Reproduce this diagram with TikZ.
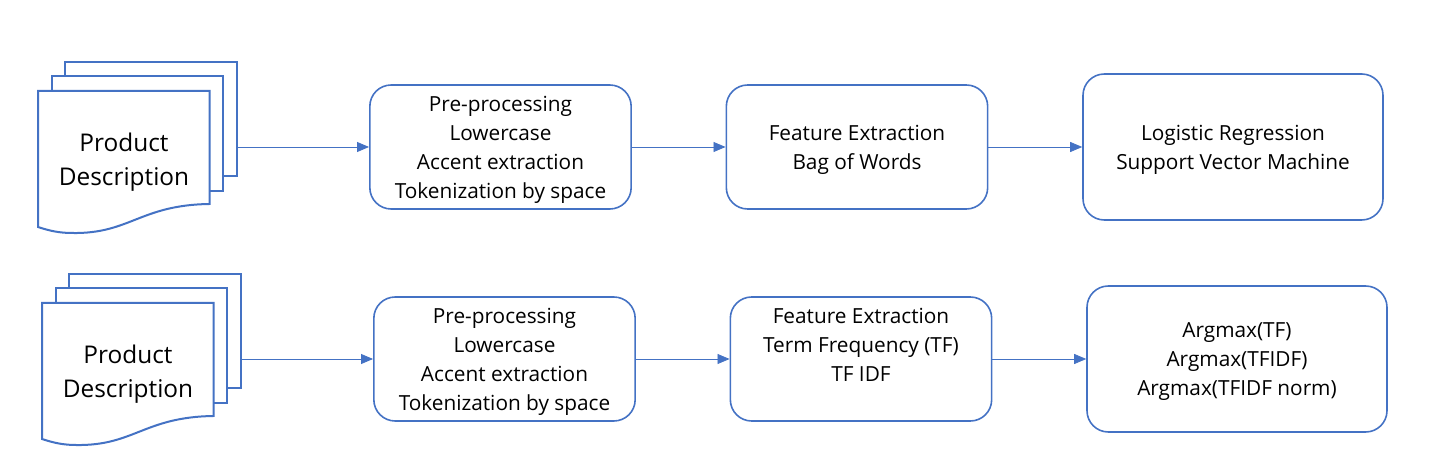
\documentclass[tikz,border=0pt]{standalone}
\usepackage{fontspec}
\setmainfont{Open Sans}
\usetikzlibrary{arrows.meta}
\definecolor{officeblue}{HTML}{4472C4}
\tikzset{
  sheet/.style={draw=officeblue,line width=1.5pt,fill=white,inner sep=0pt},
  stepbox/.style={draw=officeblue,line width=1.2pt,rounded corners=16pt,inner sep=0pt,
    minimum width=196pt,minimum height=93pt,align=center,font=\fontsize{15.6}{21.75}\selectfont,
    text depth=-3.3pt},
  modelbox/.style={stepbox,minimum width=225pt,minimum height=109.5pt},
  doctext/.style={align=center,font=\fontsize{18.3}{25.5}\selectfont,text depth=-0.3pt},
  flow/.style={draw=officeblue,line width=0.6pt,-{Triangle[length=9pt,width=7.5pt]}}
}
\begin{document}
\begin{tikzpicture}[x=0.75pt,y=-0.75pt]
  \useasboundingbox (0,0) rectangle (1435,466);
  % first row
  \node[sheet,minimum width=129pt,minimum height=85.5pt] (backA) at (151,119) {};
  \node[sheet,minimum width=128.25pt,minimum height=86.25pt] (midA) at (137.5,133.5) {};
  \draw[sheet] (38,91) -- (209.5,91) -- (209.5,204)
    .. controls (140,205) and (130,234) .. (72,233)
    .. controls (60,233) and (50,231) .. (38,227) -- cycle;
  \node[doctext] (descA) at (124,159) {Product\\Description};
  \node[stepbox] (prepA) at (500.5,147) {Pre-processing\\Lowercase\\Accent extraction\\Tokenization by space};
  \node[stepbox] (featA) at (857,147) {Feature Extraction\\Bag of Words};
  \node[modelbox] (modelA) at (1233,147) {Logistic Regression\\Support Vector Machine};
  \draw[flow] (backA.east |- prepA.west) -- (prepA.west);
  \draw[flow] (prepA) -- (featA);
  \draw[flow] (featA) -- (modelA);
  % second row
  \node[sheet,minimum width=129pt,minimum height=85.5pt] (backB) at (155,331) {};
  \node[sheet,minimum width=128.25pt,minimum height=86.25pt] (midB) at (141.5,345.5) {};
  \draw[sheet] (42,303) -- (213.5,303) -- (213.5,416)
    .. controls (144,417) and (134,446) .. (76,445)
    .. controls (64,445) and (54,443) .. (42,439) -- cycle;
  \node[doctext] (descB) at (128,371) {Product\\Description};
  \node[stepbox] (prepB) at (504.5,359) {Pre-processing\\Lowercase\\Accent extraction\\Tokenization by space};
  \node[stepbox] (featB) at (861,359) {Feature Extraction\\Term Frequency (TF)\\TF IDF\\~};
  \node[modelbox] (modelB) at (1237,359) {Argmax(TF)\\Argmax(TFIDF)\\Argmax(TFIDF norm)};
  \draw[flow] (backB.east |- prepB.west) -- (prepB.west);
  \draw[flow] (prepB) -- (featB);
  \draw[flow] (featB) -- (modelB);
\end{tikzpicture}
\end{document}
